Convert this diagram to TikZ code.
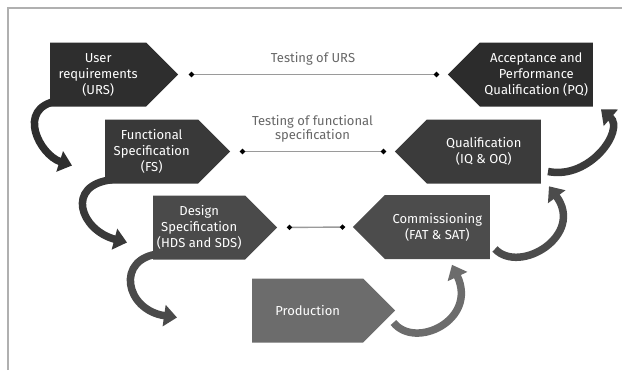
\documentclass[tikz,border=0pt]{standalone}
\usepackage{fontspec}
\setmainfont{Fira Sans}
\usetikzlibrary{shapes.symbols,arrows.meta}

\definecolor{ursgray}{HTML}{2E2E2E}
\definecolor{fsgray}{HTML}{393939}
\definecolor{dsgray}{HTML}{4A4A4A}
\definecolor{prodgray}{HTML}{6C6C6C}
\definecolor{commgray}{HTML}{4C4C4C}
\definecolor{qualgray}{HTML}{3B3B3B}
\definecolor{accgray}{HTML}{2C2C2C}
\definecolor{linegray}{HTML}{9A9A9A}
\definecolor{labelgray}{HTML}{666666}
\definecolor{framegray}{HTML}{B0B0B0}

\pgfdeclarelayer{background}
\pgfsetlayers{background,main}

\tikzset{
  stage/.style={signal, signal pointer angle=90, fill=#1, text=white,
    align=center, font=\fontsize{13}{16}\selectfont,
    minimum height=64pt, inner sep=1pt},
  testline/.style={draw=linegray, line width=1.4pt,
    {Circle[length=5pt,width=5pt,color=black]}-{Circle[length=5pt,width=5pt,color=black]}},
  testlabel/.style={text=labelgray, align=center,
    font=\fontsize{13}{14.5}\selectfont},
  bendarrow/.style={draw=#1, line width=7.5pt,
    -{Triangle[width=21pt,length=13pt]}},
}

\begin{document}
\begin{tikzpicture}[x=1pt,y=-1pt]
\useasboundingbox (0,0) rectangle (622,370);
% frame
\draw[framegray, line width=1.5pt] (8,370) -- (8,8) -- (622,8);

% left side of the V
\node[stage=ursgray, signal to=east, minimum width=128pt, anchor=west] (urs) at (50,74.5) {User\\requirements\\(URS)};
\node[stage=fsgray, signal to=east, minimum width=125pt, anchor=west] (fs) at (105,151.5) {Functional\\Specification\\(FS)};
\node[stage=dsgray, signal to=east, minimum width=124pt, anchor=west] (ds) at (153,227.5) {Design\\Specification\\(HDS and SDS)};
\node[stage=prodgray, signal to=east, minimum width=143pt, anchor=west] (prod) at (252,310.5) {Production};

% right side of the V
\node[stage=commgray, signal to=west, minimum width=137pt, anchor=east] (comm) at (490,227) {Commissioning\\(FAT \& SAT)};
\node[stage=qualgray, signal to=west, minimum width=146pt, anchor=east] (qual) at (541,151.5) {Qualification\\(IQ \& OQ)};
\node[stage=accgray, signal to=west, minimum width=145pt, anchor=east] (acc) at (593,74.5) {Acceptance and\\Performance\\Qualification (PQ)};

% testing links
\draw[testline, shorten <=10.5pt, shorten >=8.5pt] (urs.east) -- (acc.west)
  node[testlabel, midway, above=5pt] {Testing of URS};
\draw[testline, shorten <=9.5pt, shorten >=8.5pt] (fs.east) -- (qual.west)
  node[testlabel, midway, above=5pt] {Testing of functional\\specification};
\draw[testline, shorten <=9.5pt, shorten >=7.5pt] (ds.east) -- (comm.west);

% curved arrows behind the boxes
\begin{pgfonlayer}{background}
\draw[bendarrow=ursgray] ([shift={(8,-6)}]urs.south west) .. controls (15,108) and (40,155) .. ([shift={(-33,14)}]fs.west);
\draw[bendarrow=fsgray] ([shift={(7,-4)}]fs.south west) .. controls (65,185) and (80,230) .. ([shift={(-26,15)}]ds.west);
\draw[bendarrow=dsgray] ([shift={(7,-6)}]ds.south west) .. controls (115,258) and (125,310) .. ([shift={(-75,7)}]prod.west);
\draw[bendarrow=prodgray] ([shift={(-2,12)}]prod.east) .. controls (415,350) and (478,320) .. ([shift={(-38,6)}]comm.south east);
\draw[bendarrow=commgray] ([shift={(5,22)}]comm.east) .. controls (520,275) and (585,235) .. ([shift={(8,3)}]qual.south east);
\draw[bendarrow=qualgray] ([shift={(7,20)}]qual.east) .. controls (590,180) and (625,130) .. ([shift={(8,3)}]acc.south east);
\end{pgfonlayer}
\end{tikzpicture}
\end{document}
